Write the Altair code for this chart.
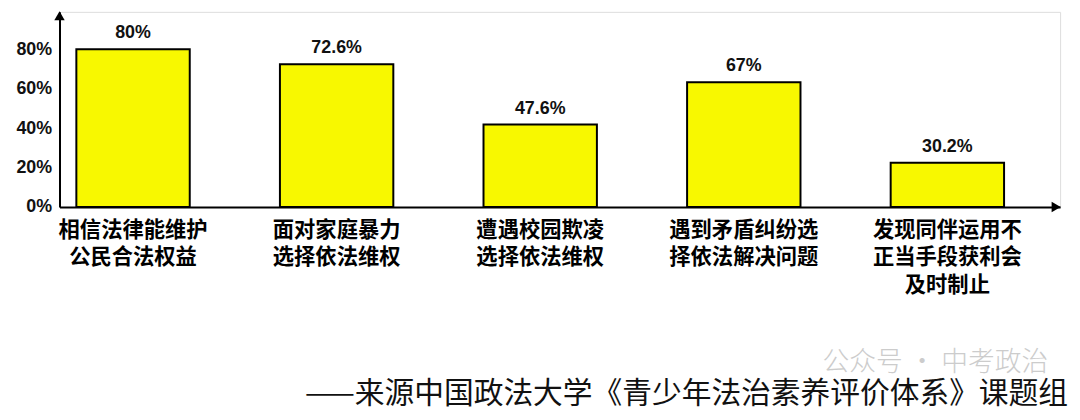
import pandas as pd
import altair as alt

# categories (line breaks as in the picture)
categories = [
    "相信法律能维护\n公民合法权益",
    "面对家庭暴力\n选择依法维权",
    "遭遇校园欺凌\n选择依法维权",
    "遇到矛盾纠纷选\n择依法解决问题",
    "发现同伴运用不\n正当手段获利会\n及时制止",
]
# bar heights as drawn in the picture (percent)
bar_heights = [80, 72.4, 41.9, 63.3, 22.5]
# labels printed above the bars
value_labels = ["80%", "72.6%", "47.6%", "67%", "30.2%"]
y_ticks = [0, 20, 40, 60, 80]

source_text = "——来源中国政法大学《青少年法治素养评价体系》课题组"
watermark = "公众号 · 中考政治"

df = pd.DataFrame({"cat": categories, "v": bar_heights, "lab": value_labels})
one = pd.DataFrame({"k": [0]})

W, H = 1010, 197

base = alt.Chart(df).encode(
    x=alt.X(
        "cat:N",
        sort=categories,
        scale=alt.Scale(paddingInner=0.443, paddingOuter=0.179, align=0.231),
        axis=alt.Axis(
            title=None, labelAngle=0, ticks=False, domainColor="black",
            domainWidth=2, labelExpr="split(datum.label, '\\n')",
            labelFont="Noto Sans CJK SC", labelFontWeight="bold",
            labelFontSize=21.5, labelLineHeight=27.5, labelColor="black",
            labelPadding=13,
        ),
    ),
    y=alt.Y(
        "v:Q",
        scale=alt.Scale(domain=[0, 99], nice=False),
        axis=alt.Axis(
            title=None, values=y_ticks, labelExpr="datum.value + '%'",
            ticks=False, grid=False, domainColor="black", domainWidth=2,
            labelFont="Liberation Sans", labelFontSize=18, labelFontWeight="bold",
            labelColor="#111111", labelPadding=8,
        ),
    ),
)

bars = base.mark_bar(color="#f8f800", stroke="black", strokeWidth=2)
texts = base.mark_text(
    baseline="bottom", dy=-7, font="Liberation Sans", fontSize=18,
    fontWeight="bold", color="#111111"
).encode(text="lab:N")

# axis arrow heads
arrow_up = alt.Chart(one).mark_point(
    shape="triangle-up", filled=True, size=110, color="black", opacity=1
).encode(x=alt.value(0), y=alt.value(4))
arrow_right = alt.Chart(one).mark_point(
    shape="triangle-right", filled=True, size=110, color="black", opacity=1
).encode(x=alt.value(W - 4), y=alt.value(H))

src = alt.Chart(one).mark_text(
    align="right", baseline="alphabetic", font="Noto Sans CJK SC",
    fontSize=30, color="#111111", text=source_text
).encode(x=alt.value(W + 8), y=alt.value(395))
wm = alt.Chart(one).mark_text(
    align="right", baseline="alphabetic", font="Noto Sans CJK SC",
    fontSize=27, fontWeight=300, color="#cccccc", text=watermark
).encode(x=alt.value(W - 12), y=alt.value(363))

chart = alt.layer(bars, texts, arrow_up, arrow_right, wm, src).properties(
    width=W, height=H,
    autosize=alt.AutoSizeParams(type="none"),
    padding={"left": 52, "top": 2, "right": 12, "bottom": 205},
).configure_view(stroke=None).configure(background="white")

chart.save("out.html", embed_options={"renderer": "svg", "actions": False})
